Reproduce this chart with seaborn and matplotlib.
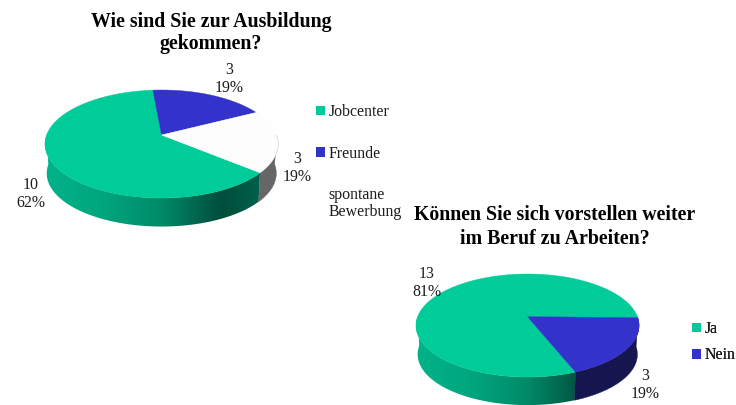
import numpy as np
import pandas as pd
import matplotlib
matplotlib.use("Agg")
import matplotlib.pyplot as plt
from matplotlib.patches import Patch, PathPatch
from matplotlib.path import Path
import seaborn as sns

# ---- data
cats_a = ["Jobcenter", "Freunde", "spontane\nBewerbung"]
vals_a = [10, 3, 3]
pcts_a = ["62%", "19%", "19%"]
title_a = "Wie sind Sie zur Ausbildung\ngekommen?"

cats_b = ["Ja", "Nein"]
vals_b = [13, 3]
pcts_b = ["81%", "19%"]
title_b = "Können Sie sich vorstellen weiter\nim Beruf zu Arbeiten?"

GREEN, BLUE, WHITE = "#00CC99", "#3333CC", "#FDFDFD"

sns.set_theme(style="white")
plt.rcParams["font.family"] = ["Liberation Serif", "DejaVu Serif"]
TXT = "#1c1c1c"
FS = 11.4

fig = plt.figure(figsize=(7.36, 4.05), dpi=100)
ax = fig.add_axes([0, 0, 1, 1])
ax.set_xlim(0, 736)
ax.set_ylim(405, 0)
ax.axis("off")

green_side = sns.blend_palette(
    ["#00B48A", "#00A67E", "#008A68", "#004E3C", "#006A52"], as_cmap=True)


def project(theta_deg, geom, drop=0.0, shrink=1.0):
    """Perspective view of a point on the rim of the pie disk."""
    t = np.radians(theta_deg)
    u, v = np.cos(t), np.sin(t)
    den = 1 + geom["k"] * v
    x = geom["cx"] + shrink * geom["R"] * u / den
    y = geom["cy"] - shrink * geom["a"] * v / den + drop
    return x, y


def draw_pie(values, colors, side, start, geom):
    df = pd.DataFrame({"v": values})
    df["sweep"] = df["v"] / df["v"].sum() * 360
    df["t2"] = start - df["sweep"].cumsum().shift(fill_value=0)
    df["t1"] = df["t2"] - df["sweep"]
    # side wall
    for (_, r), s in zip(df.iterrows(), side):
        for n in range(-1, 4):
            lo = max(r.t1 + 360 * n, 180)
            hi = min(r.t2 + 360 * n, 360)
            if hi <= lo:
                continue
            th = np.linspace(lo, hi, 120)
            x0, y0 = project(th, geom)
            x1, y1 = project(th, geom, geom["depth"], geom["shrink"])
            xs = np.r_[x0, x1[::-1]]
            ys = np.r_[y0, y1[::-1]]
            if isinstance(s, str):
                ax.fill(xs, ys, color=s, lw=0.3, zorder=2)
            else:
                clip = PathPatch(Path(np.c_[xs, ys], closed=False),
                                 transform=ax.transData, fc="none", ec="none")
                ax.add_patch(clip)
                w = geom["R"] * 1.04
                im = ax.imshow(np.linspace(0, 1, 256)[None, :], cmap=s,
                               extent=[geom["cx"] - w, geom["cx"] + w,
                                       geom["cy"] + 110, geom["cy"] - 110],
                               aspect="auto", zorder=2, interpolation="bilinear")
                im.set_clip_path(clip)
    # top face
    for (_, r), c in zip(df.iterrows(), colors):
        th = np.linspace(r.t1, r.t2, 200)
        x, y = project(th, geom)
        ax.fill(np.r_[geom["cx"], x], np.r_[geom["cy"], y],
                color=c, lw=0.3, zorder=3)


geom_a = dict(cx=161.5, cy=135, R=114.9, a=52.5, k=1 / 6, depth=29.5, shrink=0.985)
geom_b = dict(cx=527.5, cy=316.7, R=109.9, a=50.0, k=0.171, depth=29, shrink=0.985)

draw_pie(vals_a, [GREEN, BLUE, WHITE], [green_side, BLUE, "#666666"], -40, geom_a)
draw_pie(vals_b, [GREEN, BLUE], [green_side, "#15154F"], -68.5, geom_b)
ax.set_xlim(0, 736)
ax.set_ylim(405, 0)


def label(x, y, i, vals, pcts):
    ax.text(x, y, f"{vals[i]}\n{pcts[i]}", ha="center", va="center", fontsize=FS,
            color=TXT, linespacing=1.12, zorder=5)


label(229, 79, 1, vals_a, pcts_a)
label(297, 168, 2, vals_a, pcts_a)
label(31, 194, 0, vals_a, pcts_a)
label(427, 283, 0, vals_b, pcts_b)
label(645, 385, 1, vals_b, pcts_b)

ax.text(211, 33, title_a, ha="center", va="center", fontsize=14.3, fontweight="bold",
        color="black", linespacing=1.18)
ax.text(555, 227, title_b, ha="center", va="center", fontsize=14.3, fontweight="bold",
        color="black", linespacing=1.27)


def legend(cats, colors, anchor, spacing):
    h = [Patch(fc=c, ec="none", label=l) for c, l in zip(colors, cats)]
    lg = ax.legend(handles=h, loc="upper left", bbox_to_anchor=anchor,
                   bbox_transform=ax.transData, frameon=False, fontsize=FS,
                   handlelength=0.55, handleheight=0.55, handletextpad=0.25,
                   labelspacing=spacing, borderpad=0, borderaxespad=0,
                   labelcolor=TXT)
    for t in lg.get_texts():
        t.set_linespacing(1.08)
    ax.add_artist(lg)


legend(cats_a, [GREEN, BLUE, "white"], (316, 104), 1.62)
legend(cats_b, [GREEN, BLUE], (692, 321), 0.66)

fig.savefig("out.png", dpi=100)
